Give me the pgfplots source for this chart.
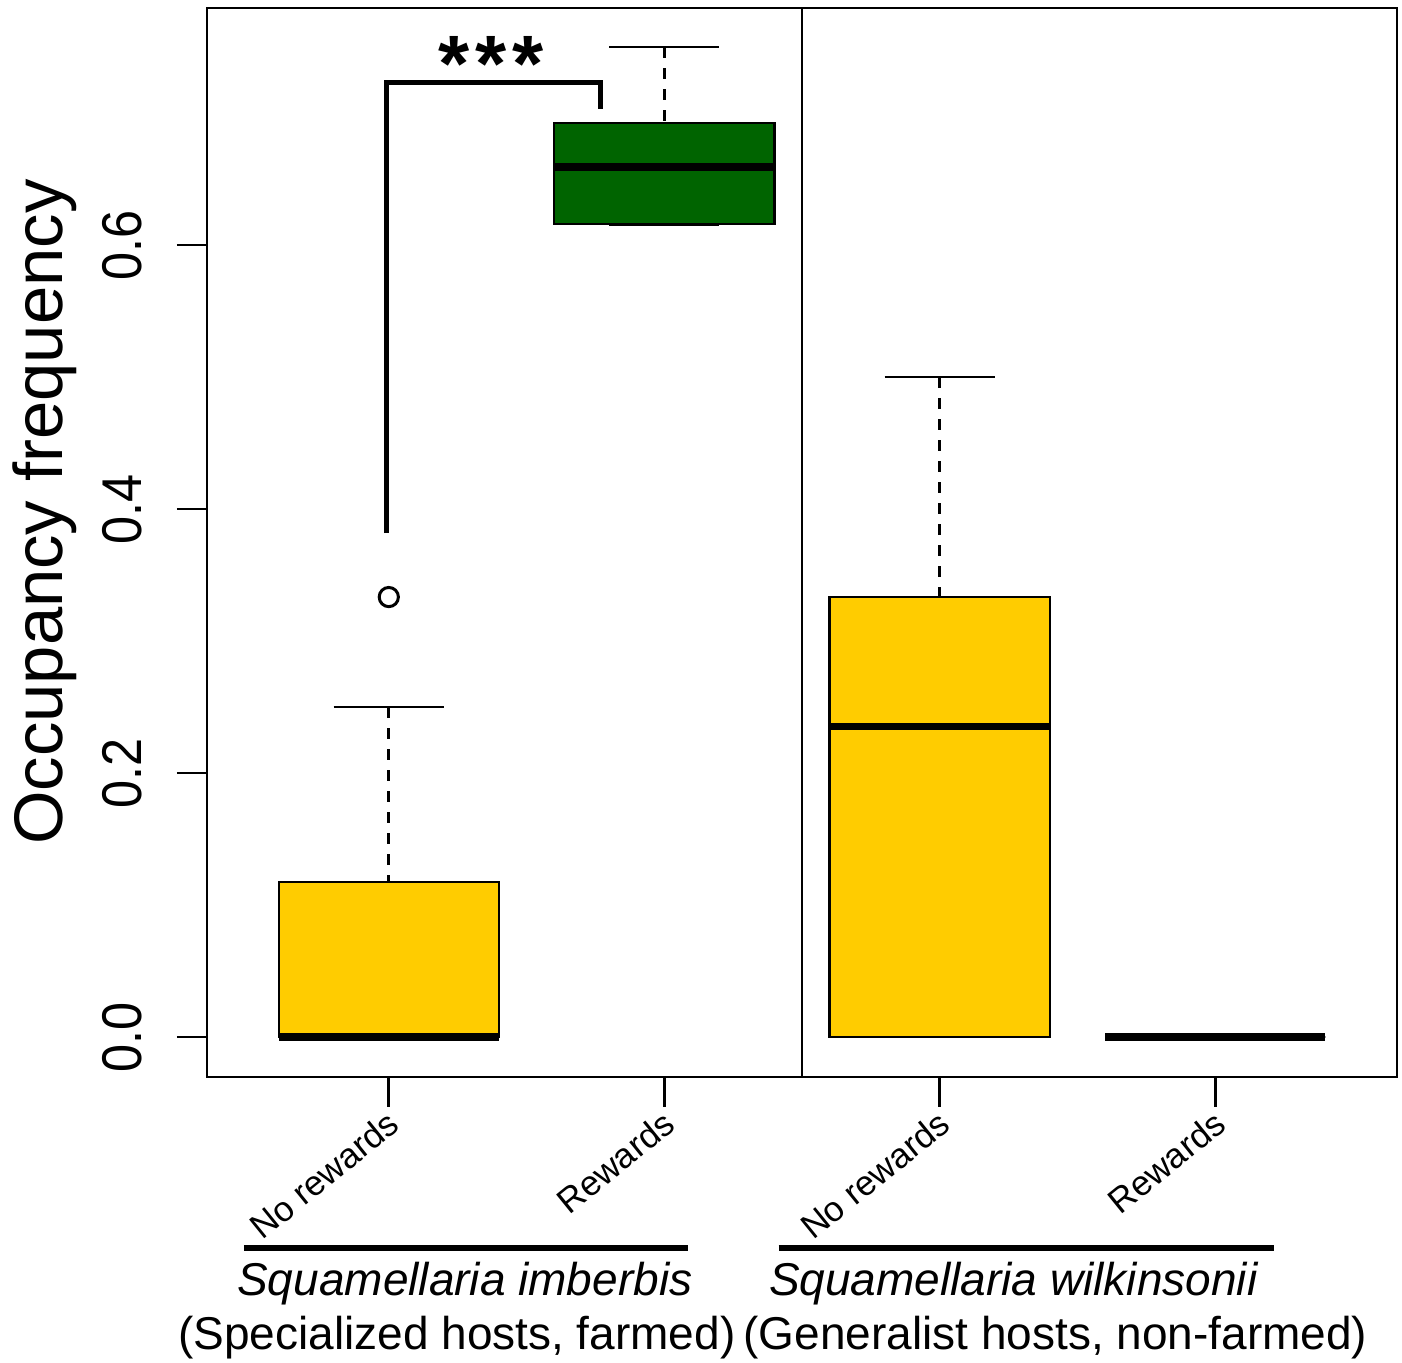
\documentclass[border=0pt]{standalone}
\usepackage{fontspec}
\setmainfont{Liberation Sans}
\newfontfamily\tickfont{Liberation Sans}[FakeStretch=0.9]
\usepackage{pgfplots}
\usepgfplotslibrary{statistics}
\pgfplotsset{compat=1.18}
\definecolor{boxyellow}{HTML}{FFCC00}
\definecolor{boxgreen}{HTML}{006400}
\pgfplotsset{
  /pgfplots/boxplot/draw/upper whisker/.code={%
    \draw[black, line width=1.4pt, dash pattern=on 5.5pt off 5pt]
      (boxplot cs:\pgfplotsboxplotvalue{upper whisker}) -- (boxplot cs:\pgfplotsboxplotvalue{upper quartile});
    \draw[black, line width=1.4pt, solid]
      (boxplot whisker cs:\pgfplotsboxplotvalue{upper whisker},0) -- (boxplot whisker cs:\pgfplotsboxplotvalue{upper whisker},1);
  },
  /pgfplots/boxplot/draw/lower whisker/.code={%
    \draw[black, line width=1.4pt, dash pattern=on 5.5pt off 5pt]
      (boxplot cs:\pgfplotsboxplotvalue{lower whisker}) -- (boxplot cs:\pgfplotsboxplotvalue{lower quartile});
    \draw[black, line width=1.4pt, solid]
      (boxplot whisker cs:\pgfplotsboxplotvalue{lower whisker},0) -- (boxplot whisker cs:\pgfplotsboxplotvalue{lower whisker},1);
  },
  rbox/.style={black, mark=o, mark size=4.8pt,
    mark options={solid, line width=1.5pt, black},
    boxplot/every box/.style={draw=black, line width=1.1pt, fill=#1},
    boxplot/every median/.style={draw=black, line width=3.8pt}},
}
\tikzset{xlab/.style={rotate=39, anchor=base east, inner sep=0pt, font=\fontsize{17.5pt}{19pt}\selectfont}}
\begin{document}
\begin{tikzpicture}
\begin{axis}[
  at={(0pt,0pt)}, anchor=south west,
  scale only axis, width=595pt, height=534.5pt,
  xmin=0.34, xmax=4.66, ymin=-0.0303, ymax=0.77955,
  clip=false,
  axis line style={line width=1.4pt, black},
  xtick={1,2,3,4}, xticklabels={{},{},{},{}},
  ytick={0,0.2,0.4,0.6}, yticklabels={0.0,0.2,0.4,0.6},
  tick align=outside, xtick pos=bottom, ytick pos=left,
  major tick length=15pt,
  major tick style={line width=1.4pt, black},
  yticklabel style={xshift=-17.5pt, rotate=90, anchor=base, font=\tickfont\fontsize{28pt}{28pt}\selectfont},
  ylabel={Occupancy frequency},
  every axis y label/.style={at={(rel axis cs:0,0.5285)}, xshift=-72pt, rotate=90, anchor=base, font=\fontsize{34.4pt}{36pt}\selectfont},
  boxplot/draw direction=y,
  boxplot/box extend=0.8, boxplot/whisker extend=0.4,
]
% S. imberbis, no rewards
\addplot[rbox=boxyellow, boxplot prepared={draw position=1, lower whisker=0, lower quartile=0, median=0, upper quartile=0.1175, upper whisker=0.25}]
  table[row sep=\\, y index=0] {y\\ 0.3333\\};
% S. imberbis, rewards
\addplot[rbox=boxgreen, boxplot prepared={draw position=2, lower whisker=0.6157, lower quartile=0.6157, median=0.6593, upper quartile=0.6927, upper whisker=0.75}]
  coordinates {};
% S. wilkinsonii, no rewards
\addplot[rbox=boxyellow, boxplot prepared={draw position=3, lower whisker=0, lower quartile=0, median=0.2351, upper quartile=0.3333, upper whisker=0.5}]
  coordinates {};
% S. wilkinsonii, rewards
\addplot[rbox=boxyellow, boxplot prepared={draw position=4, lower whisker=0, lower quartile=0, median=0, upper quartile=0, upper whisker=0}]
  coordinates {};

% separator
\draw[line width=1.4pt] (axis cs:2.5,-0.0303) -- (axis cs:2.5,0.77955);
% significance bracket
\draw[line width=2.3pt, line join=miter] (axis cs:0.992,0.3818) -- (axis cs:0.992,0.7230) -- (axis cs:1.768,0.7230) -- (axis cs:1.768,0.7028);
\node[anchor=base, inner sep=0pt, font=\bfseries\fontsize{40pt}{40pt}\selectfont] at (axis cs:1.370,0.716) {*\kern3pt*\kern3pt*};

% x tick labels
\node[xlab] at (axis cs:1.047,-0.069) {No rewards};
\node[xlab] at (axis cs:2.047,-0.069) {Rewards};
\node[xlab] at (axis cs:3.047,-0.069) {No rewards};
\node[xlab] at (axis cs:4.047,-0.069) {Rewards};
% group underlines
\draw[line width=2.6pt] (axis cs:0.474,-0.1598) -- (axis cs:2.085,-0.1598);
\draw[line width=2.6pt] (axis cs:2.415,-0.1598) -- (axis cs:4.214,-0.1598);
% group labels
\node[anchor=base, inner sep=0pt, font=\itshape\fontsize{23pt}{26pt}\selectfont] at (axis cs:1.276,-0.1962) {Squamellaria imberbis};
\node[anchor=base, inner sep=0pt, font=\fontsize{23pt}{26pt}\selectfont] at (axis cs:1.247,-0.2371) {(Specialized hosts, farmed)};
\node[anchor=base, inner sep=0pt, font=\itshape\fontsize{23pt}{26pt}\selectfont] at (axis cs:3.267,-0.1962) {Squamellaria wilkinsonii};
\node[anchor=base, inner sep=0pt, font=\fontsize{23pt}{26pt}\selectfont] at (axis cs:3.420,-0.2371) {(Generalist hosts, non-farmed)};
\end{axis}
\pgfresetboundingbox
\useasboundingbox (-103.5pt,-143pt) rectangle (597.5pt,538.5pt);
\end{tikzpicture}
\end{document}
